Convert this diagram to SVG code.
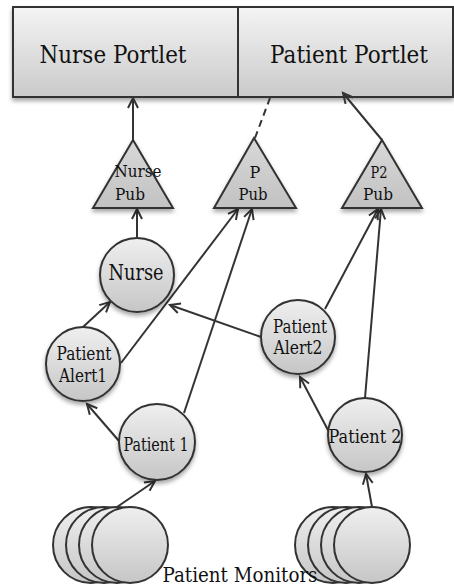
<svg xmlns="http://www.w3.org/2000/svg" width="454" height="588" viewBox="0 0 454 588">
<style>
  text { font-family: "DejaVu Serif", "Liberation Serif", serif; fill: #111; text-anchor: middle; }
  .shape { stroke: #333; stroke-width: 2; }
  .conn { stroke: #333; stroke-width: 2; fill: none; }
  .portlet { font-size: 25px; }
  .lbl { font-size: 18px; }
  .tri { font-size: 16px; }
</style>
<defs>
  <linearGradient id="gBox" x1="0" y1="0" x2="0" y2="1">
    <stop offset="0" stop-color="#f4f4f4"/>
    <stop offset="1" stop-color="#cacaca"/>
  </linearGradient>
  <linearGradient id="gCirc" x1="0" y1="0" x2="0" y2="1">
    <stop offset="0" stop-color="#efefef"/>
    <stop offset="1" stop-color="#c6c6c6"/>
  </linearGradient>
  <linearGradient id="gTri" x1="0" y1="0" x2="0" y2="1">
    <stop offset="0" stop-color="#d8d8d8"/>
    <stop offset="1" stop-color="#c2c2c2"/>
  </linearGradient>
  <filter id="sh" x="-20%" y="-20%" width="140%" height="150%">
    <feDropShadow dx="0" dy="3" stdDeviation="2" flood-color="#000" flood-opacity="0.35"/>
  </filter>
  <marker id="arr" markerUnits="userSpaceOnUse" markerWidth="14" markerHeight="14" refX="11" refY="6" orient="auto" viewBox="0 0 14 12">
    <path d="M1,1 L11,6 L1,11" fill="none" stroke="#333" stroke-width="2"/>
  </marker>
</defs>

<g id="portlets">
  <rect x="13" y="7" width="440" height="90" fill="url(#gBox)" class="shape" filter="url(#sh)"/>
  <line x1="238" y1="7" x2="238" y2="97" class="shape"/>
  <text class="portlet" x="113" y="63" textLength="147" lengthAdjust="spacingAndGlyphs">Nurse Portlet</text>
  <text class="portlet" x="349" y="63" textLength="158" lengthAdjust="spacingAndGlyphs">Patient Portlet</text>
</g>

<g id="connectors">
  <line class="conn" x1="133" y1="140" x2="133" y2="98" marker-end="url(#arr)"/>
  <line class="conn" x1="255" y1="138" x2="270" y2="98" stroke-dasharray="7,5"/>
  <line class="conn" x1="382" y1="140" x2="343" y2="93" marker-end="url(#arr)"/>
  <line class="conn" x1="137" y1="237" x2="137" y2="209" marker-end="url(#arr)"/>
  <line class="conn" x1="83" y1="327" x2="110" y2="302" marker-end="url(#arr)"/>
  <line class="conn" x1="121" y1="363" x2="238" y2="209" marker-end="url(#arr)"/>
  <line class="conn" x1="184" y1="413" x2="252" y2="209" marker-end="url(#arr)"/>
  <line class="conn" x1="261" y1="337" x2="170" y2="305" marker-end="url(#arr)"/>
  <line class="conn" x1="325" y1="309" x2="378" y2="209" marker-end="url(#arr)"/>
  <line class="conn" x1="365" y1="398" x2="381" y2="209" marker-end="url(#arr)"/>
  <line class="conn" x1="329" y1="432" x2="300" y2="377" marker-end="url(#arr)"/>
  <line class="conn" x1="119" y1="441" x2="87" y2="404" marker-end="url(#arr)"/>
  <line class="conn" x1="117" y1="507" x2="155" y2="481" marker-end="url(#arr)"/>
  <line class="conn" x1="372" y1="507" x2="366" y2="474" marker-end="url(#arr)"/>
</g>

<g id="nurse-pub">
  <polygon points="133,140 173,208 93,208" fill="url(#gTri)" class="shape" filter="url(#sh)"/>
  <text class="tri" x="138" y="177" textLength="47" lengthAdjust="spacingAndGlyphs">Nurse</text>
  <text class="tri" x="130" y="200" textLength="30" lengthAdjust="spacingAndGlyphs">Pub</text>
</g>
<g id="p-pub">
  <polygon points="254,138 296,208 214,208" fill="url(#gTri)" class="shape" filter="url(#sh)"/>
  <text class="tri" x="255" y="178">P</text>
  <text class="tri" x="253" y="200" textLength="29" lengthAdjust="spacingAndGlyphs">Pub</text>
</g>
<g id="p2-pub">
  <polygon points="382,140 422,208 342,208" fill="url(#gTri)" class="shape" filter="url(#sh)"/>
  <text class="tri" x="379" y="178" textLength="17" lengthAdjust="spacingAndGlyphs">P2</text>
  <text class="tri" x="378" y="200" textLength="30" lengthAdjust="spacingAndGlyphs">Pub</text>
</g>

<g id="nurse">
  <circle cx="137" cy="275" r="37" fill="url(#gCirc)" class="shape" filter="url(#sh)"/>
  <text x="136" y="280" font-size="22" textLength="55" lengthAdjust="spacingAndGlyphs">Nurse</text>
</g>
<g id="patient-alert1">
  <circle cx="83" cy="364" r="37" fill="url(#gCirc)" class="shape" filter="url(#sh)"/>
  <text class="lbl" x="84" y="360" textLength="55" lengthAdjust="spacingAndGlyphs">Patient</text>
  <text class="lbl" x="83" y="382" textLength="48" lengthAdjust="spacingAndGlyphs">Alert1</text>
</g>
<g id="patient-alert2">
  <circle cx="298" cy="337" r="37" fill="url(#gCirc)" class="shape" filter="url(#sh)"/>
  <text class="lbl" x="300" y="333" textLength="54" lengthAdjust="spacingAndGlyphs">Patient</text>
  <text class="lbl" x="298" y="354" textLength="49" lengthAdjust="spacingAndGlyphs">Alert2</text>
</g>
<g id="patient1">
  <circle cx="157" cy="442" r="38" fill="url(#gCirc)" class="shape" filter="url(#sh)"/>
  <text x="156" y="451" font-size="19" textLength="65" lengthAdjust="spacingAndGlyphs">Patient 1</text>
</g>
<g id="patient2">
  <circle cx="365" cy="435" r="37" fill="url(#gCirc)" class="shape" filter="url(#sh)"/>
  <text x="365" y="443" font-size="19" textLength="73" lengthAdjust="spacingAndGlyphs">Patient 2</text>
</g>

<g id="monitors-left">
  <circle cx="91" cy="545" r="38" fill="url(#gCirc)" class="shape"/>
  <circle cx="104" cy="545" r="38" fill="url(#gCirc)" class="shape"/>
  <circle cx="117" cy="545" r="38" fill="url(#gCirc)" class="shape"/>
  <circle cx="130" cy="545" r="38" fill="url(#gCirc)" class="shape"/>
</g>
<g id="monitors-right">
  <circle cx="333" cy="545" r="38" fill="url(#gCirc)" class="shape"/>
  <circle cx="346" cy="545" r="38" fill="url(#gCirc)" class="shape"/>
  <circle cx="359" cy="545" r="38" fill="url(#gCirc)" class="shape"/>
  <circle cx="372" cy="545" r="38" fill="url(#gCirc)" class="shape"/>
</g>
<g id="monitors-label">
  <text x="240" y="582" font-size="20" textLength="155" lengthAdjust="spacingAndGlyphs">Patient Monitors</text>
</g>
</svg>
